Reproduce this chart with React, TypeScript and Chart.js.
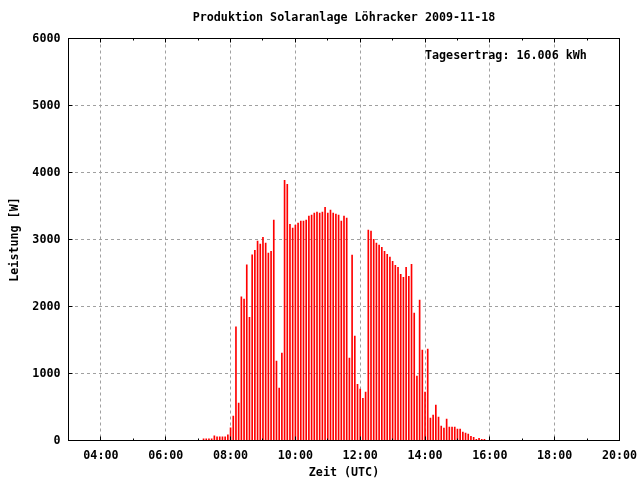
import React, { useEffect, useRef } from "react";
import { Chart, registerables } from "chart.js";

Chart.register(...registerables);

// ---- text ----
const titleText = "Produktion Solaranlage Löhracker 2009-11-18";
const yieldLabel = "Tagesertrag: 16.006 kWh";
const xAxisTitle = "Zeit (UTC)";
const yAxisTitle = "Leistung [W]";

// ---- sampling grid (5-minute samples starting 07:10 UTC) ----
const firstSampleMinute = 7 * 60 + 10;
const sampleStepMinutes = 5;

// ---- power values [W] ----
const power0710to0755 = [25, 25, 25, 25, 70, 55, 55, 55, 55, 85];
const power0800to0955 = [
  190, 363, 1697, 557, 2143, 2109, 2621, 1840, 2770, 2840, 2975, 2930,
  3034, 2945, 2796, 2825, 3288, 1186, 781, 1303, 3885, 3825, 3228, 3169,
];
const power1000to1155 = [
  3214, 3244, 3274, 3274, 3288, 3348, 3363, 3393, 3408, 3393, 3408, 3482,
  3393, 3438, 3393, 3378, 3363, 3274, 3348, 3318, 1229, 2766, 1557, 840,
];
const power1200to1355 = [
  766, 631, 721, 3139, 3124, 3004, 2945, 2915, 2885, 2825, 2780, 2736,
  2676, 2616, 2586, 2482, 2437, 2586, 2452, 2631, 1900, 960, 2094, 1348,
];
const power1400to1550 = [
  721, 1363, 333, 378, 527, 348, 214, 184, 318, 199, 199, 199,
  169, 169, 124, 109, 94, 64, 49, 19, 34, 19, 19,
];

// ---- axes ----
const xMinHour = 3;
const xMaxHour = 20;
const xTickHours = [4, 6, 8, 10, 12, 14, 16, 18, 20];
const xMinorHours = [5, 7, 9, 11, 13, 15, 17, 19];
const yMin = 0;
const yMax = 6000;
const yStep = 1000;

const FONT = { family: '"DejaVu Sans Mono", monospace', size: 11.7, weight: "bold" as const };

const framePlugin = {
  id: "gnuplotFrame",
  afterDraw(chart: any) {
    const { ctx, chartArea } = chart;
    const { left, right, top, bottom } = chartArea;
    const xs = chart.scales.x;
    const ys = chart.scales.y;
    ctx.save();
    ctx.strokeStyle = "#000";
    ctx.lineWidth = 1;
    ctx.beginPath();
    const snap = (p: number) => Math.round(p - 0.5) + 0.5;
    const tick = (hours: number[], len: number) => {
      hours.forEach((h) => {
        const px = snap(xs.getPixelForValue(h));
        ctx.moveTo(px, bottom);
        ctx.lineTo(px, bottom - len);
        ctx.moveTo(px, top);
        ctx.lineTo(px, top + len);
      });
    };
    tick(xTickHours, 4);
    tick(xMinorHours, 2);
    for (let v = yMin; v <= yMax; v += yStep) {
      const py = snap(ys.getPixelForValue(v));
      ctx.moveTo(left, py);
      ctx.lineTo(left + 4, py);
      ctx.moveTo(right, py);
      ctx.lineTo(right - 4, py);
    }
    ctx.stroke();
    ctx.strokeRect(left, top, right - left, bottom - top);
    ctx.fillStyle = "#000";
    ctx.font = `bold ${FONT.size}px ${FONT.family}`;
    ctx.textAlign = "left";
    ctx.textBaseline = "middle";
    ctx.fillText(yieldLabel, 425, 56);
    ctx.restore();
  },
};

export default function App() {
  const canvasRef = useRef<HTMLCanvasElement | null>(null);

  useEffect(() => {
    const canvas = canvasRef.current;
    if (!canvas) return;
    const allPower = [
      ...power0710to0755,
      ...power0800to0955,
      ...power1000to1155,
      ...power1200to1355,
      ...power1400to1550,
    ];
    const points = allPower.map((w, i) => ({
      x: (firstSampleMinute + i * sampleStepMinutes) / 60,
      y: w,
    }));

    const chart = new Chart(canvas, {
      type: "bar",
      data: {
        datasets: [
          {
            data: points as any,
            backgroundColor: "#ff0000",
            borderWidth: 0,
            barThickness: 1,
          },
        ],
      },
      options: {
        responsive: false,
        animation: false,
        devicePixelRatio: 1,
        layout: { padding: { top: 0, right: 20.5, left: 0, bottom: 0 } },
        plugins: {
          legend: { display: false },
          tooltip: { enabled: false },
          title: {
            display: true,
            text: titleText,
            fullSize: false,
            color: "#000",
            font: FONT,
            padding: { top: 11, bottom: 13.46 },
          },
        },
        scales: {
          x: {
            type: "linear",
            min: xMinHour,
            max: xMaxHour,
            offset: false,
            afterBuildTicks: (s: any) => {
              s.ticks = xTickHours.map((v) => ({ value: v }));
            },
            afterFit: (s: any) => {
              s.height = 39.5;
              s.paddingLeft = 0;
              s.paddingRight = 0;
            },
            ticks: {
              callback: (v: any) => `${String(v).padStart(2, "0")}:00`,
              font: FONT,
              color: "#000",
              padding: 8,
              maxRotation: 0,
              autoSkip: false,
            },
            grid: { color: "#a0a0a0", lineWidth: 1, drawTicks: false, offset: false },
            border: { display: false, dash: [3, 3] },
            title: {
              display: true,
              text: xAxisTitle,
              color: "#000",
              font: FONT,
              padding: { top: 0, bottom: 0 },
            },
          },
          y: {
            type: "linear",
            min: yMin,
            max: yMax,
            afterFit: (s: any) => {
              s.width = 68.5;
              s.paddingTop = 0;
              s.paddingBottom = 0;
            },
            ticks: {
              stepSize: yStep,
              callback: (v: any) => String(v),
              font: FONT,
              color: "#000",
              padding: 8,
            },
            grid: { color: "#a0a0a0", lineWidth: 1, drawTicks: false },
            border: { display: false, dash: [3, 3] },
            title: {
              display: true,
              text: yAxisTitle,
              color: "#000",
              font: FONT,
              padding: { top: 8, bottom: 0 },
            },
          },
        },
      },
      plugins: [framePlugin],
    } as any);

    return () => chart.destroy();
  }, []);

  return (
    <div style={{ position: "fixed", left: 0, top: 0, width: 640, height: 480, background: "#fff" }}>
      <canvas ref={canvasRef} width={640} height={480} />
    </div>
  );
}
